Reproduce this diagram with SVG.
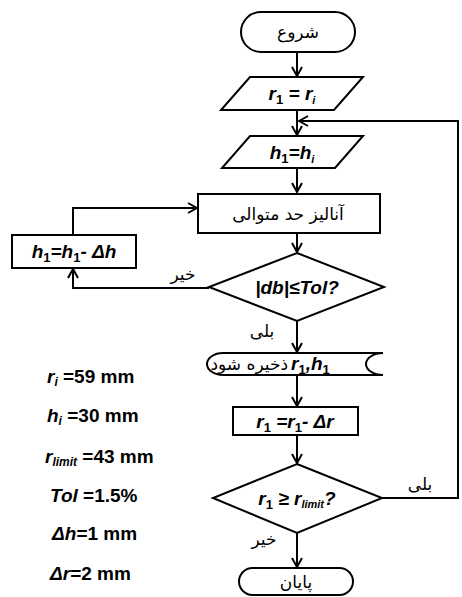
<svg xmlns="http://www.w3.org/2000/svg" width="462" height="597" viewBox="0 0 462 597">
<style>
.s{fill:#fff;stroke:#000;stroke-width:2}
.c{fill:none;stroke:#000;stroke-width:2}
.fa{font-family:"DejaVu Sans","Noto Sans",sans-serif;font-size:17px;fill:#000}
.m{font-family:"Liberation Sans",Arial,sans-serif;font-weight:bold;font-style:italic;font-size:19px;fill:#000}
.p{font-family:"Liberation Sans",Arial,sans-serif;font-weight:bold;font-size:19px;fill:#000}
.sub{font-style:normal;font-size:13px}
.sub2{font-size:11px}
</style>
<defs>
<marker id="a" viewBox="0 0 12 12" refX="11" refY="6" markerWidth="12" markerHeight="12" markerUnits="userSpaceOnUse" orient="auto">
<polyline points="2,1 11,6 2,11" fill="none" stroke="#000" stroke-width="2"/>
</marker>
</defs>
<g id="connectors">
<line class="c" x1="297" y1="52" x2="297" y2="76" marker-end="url(#a)"/>
<line class="c" x1="297" y1="110" x2="297" y2="135" marker-end="url(#a)"/>
<line class="c" x1="297" y1="168" x2="297" y2="192" marker-end="url(#a)"/>
<line class="c" x1="297" y1="233" x2="297" y2="252" marker-end="url(#a)"/>
<polyline class="c" points="209,288 73,288 73,269" marker-end="url(#a)"/>
<polyline class="c" points="73,235 73,208 197,208" marker-end="url(#a)"/>
<line class="c" x1="297" y1="321" x2="297" y2="352" marker-end="url(#a)"/>
<line class="c" x1="297" y1="375" x2="297" y2="406" marker-end="url(#a)"/>
<line class="c" x1="297" y1="435" x2="297" y2="463" marker-end="url(#a)"/>
<polyline class="c" points="382,498 458,498 458,121 299,121" marker-end="url(#a)"/>
<line class="c" x1="297" y1="533" x2="297" y2="567" marker-end="url(#a)"/>
<text class="fa" x="183" y="280" text-anchor="middle">خیر</text>
<text class="fa" x="262" y="337" text-anchor="middle">بلی</text>
<text class="fa" x="420" y="490" text-anchor="middle">بلی</text>
<text class="fa" x="264" y="545" text-anchor="middle">خیر</text>
</g>
<g id="start">
<rect class="s" x="241" y="12" width="114" height="40" rx="20"/>
<text class="fa" x="298" y="38" text-anchor="middle">شروع</text>
</g>
<g id="init-r">
<polygon class="s" points="250,77 363,77 334,110 221,110"/>
<text class="m" x="292" y="100" text-anchor="middle">r<tspan class="sub" dy="4">1</tspan><tspan dy="-4"> = r</tspan><tspan class="sub2" dy="4">i</tspan></text>
</g>
<g id="init-h">
<polygon class="s" points="250,136 363,136 335,168 222,168"/>
<text class="m" x="292" y="159" text-anchor="middle">h<tspan class="sub" dy="4">1</tspan><tspan dy="-4">=h</tspan><tspan class="sub2" dy="4">i</tspan></text>
</g>
<g id="analysis">
<rect class="s" x="198" y="194" width="182" height="39"/>
<text class="fa" x="288" y="220" text-anchor="middle">آنالیز حد متوالی</text>
</g>
<g id="dec-h">
<rect class="s" x="12" y="235" width="124" height="33"/>
<text class="m" x="74" y="258" text-anchor="middle">h<tspan class="sub" dy="4">1</tspan><tspan dy="-4">=h</tspan><tspan class="sub" dy="4">1</tspan><tspan dy="-4">- Δh</tspan></text>
</g>
<g id="check-tol">
<polygon class="s" points="297,253 384,287 297,321 209,287"/>
<text class="m" x="297" y="294" text-anchor="middle">|db|≤Tol?</text>
</g>
<g id="store">
<path class="s" d="M223,353 L383,353 A17,11 0 0 0 383,375 L223,375 A16,11 0 0 1 223,353 Z"/>
<text class="fa" x="288" y="370" text-anchor="end" font-size="15">ذخیره شود</text>
<text class="m" x="291" y="370">r<tspan class="sub" dy="4">1</tspan><tspan dy="-4">,h</tspan><tspan class="sub" dy="4">1</tspan></text>
</g>
<g id="dec-r">
<rect class="s" x="233" y="407" width="125" height="28"/>
<text class="m" x="295" y="428" text-anchor="middle">r<tspan class="sub" dy="4">1</tspan><tspan dy="-4"> =r</tspan><tspan class="sub" dy="4">1</tspan><tspan dy="-4">- Δr</tspan></text>
</g>
<g id="check-r">
<polygon class="s" points="297,464 382,498 297,533 213,498"/>
<text class="m" x="297" y="505" text-anchor="middle">r<tspan class="sub" dy="4">1</tspan><tspan dy="-4"> ≥ r</tspan><tspan class="sub2" dy="3">limit</tspan><tspan dy="-3">?</tspan></text>
</g>
<g id="end">
<rect class="s" x="239" y="568" width="114" height="27" rx="13.5"/>
<text class="fa" x="296" y="588" text-anchor="middle">پایان</text>
</g>
<g id="params">
<text class="p" x="47" y="383"><tspan font-style="italic">r</tspan><tspan font-style="italic" font-size="12" dy="3">i</tspan><tspan dy="-3"> =59 mm</tspan></text>
<text class="p" x="47" y="422"><tspan font-style="italic">h</tspan><tspan font-style="italic" font-size="12" dy="3">i</tspan><tspan dy="-3"> =30 mm</tspan></text>
<text class="p" x="45" y="463"><tspan font-style="italic">r</tspan><tspan font-style="italic" font-size="12" dy="3">limit</tspan><tspan dy="-3"> =43 mm</tspan></text>
<text class="p" x="50" y="502"><tspan font-style="italic">Tol</tspan> =1.5%</text>
<text class="p" x="52" y="540"><tspan font-style="italic">Δh</tspan>=1 mm</text>
<text class="p" x="50" y="580"><tspan font-style="italic">Δr</tspan>=2 mm</text>
</g>
</svg>
